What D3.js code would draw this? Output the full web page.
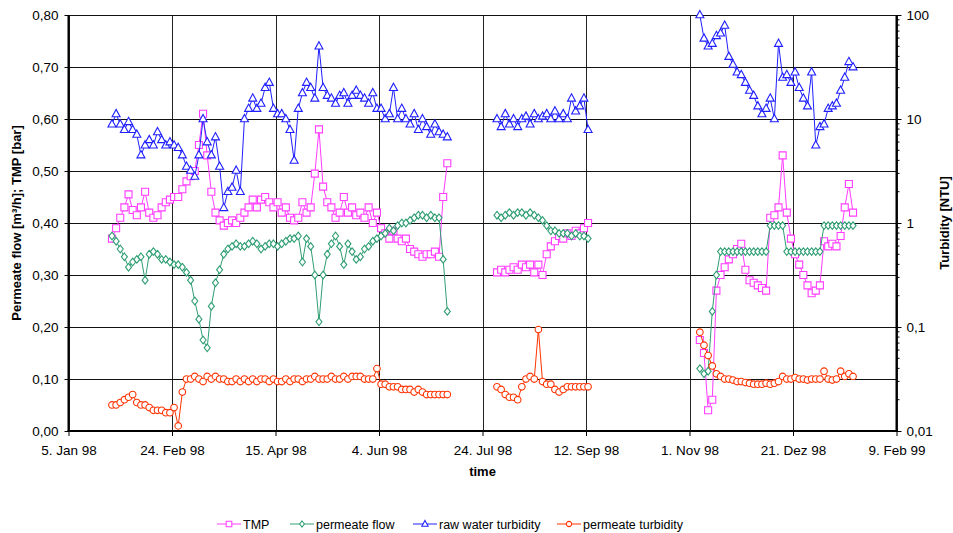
<!doctype html>
<html>
<head>
<meta charset="utf-8">
<title>TMP, permeate flow and turbidity 1998/99</title>
<style>
  body { margin: 0; background: #fff; }
  svg { display: block; font-family: "Liberation Sans", Arial, sans-serif; }
  .tick text { font-size: 13.5px; fill: #000; }
</style>
</head>
<body>
<div id="chart"></div>
<script src="https://d3js.org/d3.v7.min.js"></script>
<script>
// three measuring periods, one reading every 2nd day
var segStart = ["1998-01-26", "1998-07-31", "1998-11-06"];
var stepDays = 2;

// TMP [bar]
var tmp1 = [0.37, 0.39, 0.41, 0.43, 0.455, 0.425, 0.415, 0.43, 0.46, 0.42,
  0.41, 0.415, 0.43, 0.44, 0.445, 0.45, 0.45, 0.465, 0.48, 0.49,
  0.50, 0.55, 0.61, 0.53, 0.46, 0.42, 0.405, 0.395, 0.40, 0.405,
  0.40, 0.41, 0.42, 0.43, 0.445, 0.43, 0.445, 0.45, 0.44, 0.43,
  0.44, 0.42, 0.43, 0.41, 0.405, 0.41, 0.44, 0.42, 0.43, 0.495,
  0.58, 0.47, 0.44, 0.43, 0.41, 0.42, 0.45, 0.42, 0.43, 0.415,
  0.42, 0.41, 0.43, 0.40, 0.42, 0.39, 0.38, 0.37, 0.385, 0.37,
  0.365, 0.37, 0.35, 0.345, 0.34, 0.335, 0.34, 0.34, 0.345, 0.335,
  0.45, 0.515];
var tmp2 = [0.305, 0.31, 0.305, 0.31, 0.315, 0.31, 0.32, 0.315, 0.32, 0.305, 0.32, 0.30,
  0.34, 0.355, 0.365, 0.375, 0.37, 0.38, 0.375, 0.385, 0.38, 0.39, 0.40];
var tmp3 = [0.175, 0.15, 0.04, 0.06, 0.27, 0.30, 0.315, 0.33, 0.34, 0.35,
  0.36, 0.31, 0.29, 0.285, 0.28, 0.275, 0.27, 0.41, 0.415, 0.43,
  0.53, 0.42, 0.37, 0.34, 0.32, 0.30, 0.28, 0.265, 0.27, 0.28,
  0.365, 0.355, 0.36, 0.355, 0.375, 0.43, 0.475, 0.42];

// permeate flow [m3/h]
var flow1 = [0.375, 0.365, 0.35, 0.335, 0.315, 0.325, 0.33, 0.335, 0.29, 0.34,
  0.345, 0.34, 0.33, 0.33, 0.325, 0.32, 0.32, 0.315, 0.305, 0.29,
  0.25, 0.215, 0.175, 0.16, 0.24, 0.285, 0.31, 0.34, 0.35, 0.355,
  0.36, 0.355, 0.355, 0.36, 0.365, 0.36, 0.35, 0.355, 0.36, 0.36,
  0.355, 0.36, 0.365, 0.37, 0.37, 0.375, 0.325, 0.37, 0.355, 0.30,
  0.21, 0.30, 0.34, 0.36, 0.375, 0.355, 0.32, 0.36, 0.345, 0.33,
  0.335, 0.35, 0.355, 0.365, 0.37, 0.375, 0.38, 0.39, 0.385, 0.395,
  0.40, 0.40, 0.405, 0.41, 0.415, 0.415, 0.41, 0.415, 0.41, 0.41,
  0.33, 0.23];
var flow2 = [0.415, 0.41, 0.415, 0.42, 0.415, 0.42, 0.42, 0.415, 0.42, 0.415, 0.41, 0.405,
  0.395, 0.385, 0.385, 0.38, 0.38, 0.38, 0.375, 0.38, 0.375, 0.375, 0.37];
var flow3 = [0.12, 0.11, 0.115, 0.23, 0.30,
  0.345, 0.345, 0.345, 0.345, 0.345, 0.345, 0.345, 0.345, 0.345, 0.345, 0.345, 0.345,
  0.395, 0.395, 0.395, 0.395,
  0.345, 0.345, 0.345, 0.345, 0.345, 0.345, 0.345, 0.345, 0.345,
  0.395, 0.395, 0.395, 0.395, 0.395, 0.395, 0.395, 0.395];

// raw water turbidity [NTU]
var raw1 = [8.9, 11.2, 8.9, 7.9, 9.4, 7.9, 7.1, 4.5, 5.6, 6.3,
  5.6, 7.5, 6.3, 5.6, 6.0, 5.6, 5.3, 4.5, 3.5, 3.2,
  2.8, 4.5, 10, 6.0, 4.5, 6.7, 3.5, 1.4, 2.0, 2.2,
  3.2, 2.0, 10, 12.6, 15.8, 12.6, 14.1, 20, 22.4, 12.6,
  11.2, 11.2, 10, 7.9, 4.0, 12.6, 17.8, 22.4, 20, 15.8,
  50.1, 20, 16.8, 15.8, 14.1, 16.8, 17.8, 14.1, 16.8, 18.8,
  16.8, 15.8, 14.1, 17.8, 12.6, 12.6, 10, 11.2, 20, 10,
  12.6, 10, 8.9, 11.2, 7.9, 10, 8.4, 7.1, 8.9, 7.5,
  7.1, 6.7];
var raw2 = [10, 8.4, 11.2, 8.9, 10, 8.4, 10, 10.6, 8.9, 11.2, 10, 10.6,
  11.2, 10, 11.9, 10, 11.2, 10, 15.8, 11.9, 13.3, 15.8, 7.9];
var raw3 = [100, 59.6, 50.1, 53.1, 63.1, 66.8, 79.4, 39.8, 33.5, 28.2,
  26.6, 22.4, 18.8, 16.8, 13.3, 11.2, 12.6, 15.8, 10, 53.1,
  25.1, 26.6, 22.4, 28.2, 20, 15.8, 13.3, 28.2, 5.6, 8.4,
  8.9, 12.6, 13.3, 14.1, 18.8, 25.1, 35.5, 31.6];

// permeate turbidity [NTU]
var perm1 = [0.0178, 0.0178, 0.0188, 0.020, 0.0211, 0.0224, 0.0188, 0.0178, 0.0178, 0.0168,
  0.0158, 0.0158, 0.0158, 0.015, 0.015, 0.0168, 0.0112, 0.0237, 0.0316, 0.0316,
  0.0335, 0.0316, 0.0299, 0.0335, 0.0316, 0.0335, 0.0316, 0.0316, 0.0299, 0.0299,
  0.0316, 0.0299, 0.0316, 0.0299, 0.0316, 0.0299, 0.0316, 0.0316, 0.0299, 0.0316,
  0.0299, 0.0299, 0.0316, 0.0299, 0.0316, 0.0316, 0.0299, 0.0316, 0.0316, 0.0335,
  0.0316, 0.0316, 0.0316, 0.0335, 0.0316, 0.0316, 0.0335, 0.0316, 0.0335, 0.0335,
  0.0335, 0.0316, 0.0316, 0.0316, 0.0398, 0.0282, 0.0282, 0.0266, 0.0266, 0.0266,
  0.0251, 0.0251, 0.0251, 0.0237, 0.0251, 0.0237, 0.0224, 0.0224, 0.0224, 0.0224,
  0.0224, 0.0224];
var perm2 = [0.0266, 0.0251, 0.0224, 0.0211, 0.0211, 0.020, 0.0266, 0.0316, 0.0335, 0.0316,
  0.0944, 0.0299, 0.0282, 0.0282, 0.0251, 0.0237, 0.0251, 0.0266, 0.0266, 0.0266,
  0.0266, 0.0266, 0.0266];
var perm3 = [0.0891, 0.0668, 0.0531, 0.0422, 0.0355, 0.0335, 0.0316, 0.0316, 0.0309, 0.0299,
  0.0299, 0.0292, 0.0288, 0.0282, 0.0282, 0.0282, 0.0288, 0.0282, 0.0288, 0.0299,
  0.0335, 0.0316, 0.0316, 0.0327, 0.0316, 0.0316, 0.0309, 0.0316, 0.0316, 0.0316,
  0.0376, 0.0316, 0.0309, 0.0316, 0.0376, 0.0335, 0.0355, 0.0335];

// axis ticks
var xTickDates = ["1998-01-05", "1998-02-24", "1998-04-15", "1998-06-04", "1998-07-24",
  "1998-09-12", "1998-11-01", "1998-12-21", "1999-02-09"];
var xTickLabels = ["5. Jan 98", "24. Feb 98", "15. Apr 98", "4. Jun 98", "24. Jul 98",
  "12. Sep 98", "1. Nov 98", "21. Dez 98", "9. Feb 99"];
var leftTicks = [0, 0.1, 0.2, 0.3, 0.4, 0.5, 0.6, 0.7, 0.8];
var rightTicks = [0.01, 0.1, 1, 10, 100];
var rightTickLabels = ["0,01", "0,1", "1", "10", "100"];

var W = 953, H = 533;
var L = 68.5, R = 896.5, T = 15, B = 431;

var parse = d3.utcParse("%Y-%m-%d");

var x = d3.scaleUtc().domain([parse(xTickDates[0]), parse(xTickDates[xTickDates.length - 1])]).range([L, R]);
var yL = d3.scaleLinear().domain([0, 0.8]).range([B, T]);
var yR = d3.scaleLog().domain([0.01, 100]).range([B, T]);

var series = [
  {name: "TMP", segs: [tmp1, tmp2, tmp3], y: yL, color: "#ff3cff", marker: "square"},
  {name: "permeate flow", segs: [flow1, flow2, flow3], y: yL, color: "#2f9e73", marker: "diamond"},
  {name: "raw water turbidity", segs: [raw1, raw2, raw3], y: yR, color: "#1f1fff", marker: "triangle"},
  {name: "permeate turbidity", segs: [perm1, perm2, perm3], y: yR, color: "#ff3300", marker: "circle"}
];

var markerPath = {
  square: "M-3.5,-3.5H3.5V3.5H-3.5Z",
  diamond: "M0,-3.8L3,0L0,3.8L-3,0Z",
  triangle: "M0,-4.5L4,2.8L-4,2.8Z",
  circle: "M3.3,0A3.3,3.3 0 1,1 -3.3,0A3.3,3.3 0 1,1 3.3,0Z"
};

var svg = d3.select("#chart").append("svg")
  .attr("width", W)
  .attr("height", H);

// grid
svg.append("g")
  .attr("transform", "translate(0," + B + ")")
  .call(d3.axisBottom(x).tickValues(xTickDates.map(parse)).tickSize(-(B - T)).tickFormat(""))
  .call(function(g) { g.select(".domain").remove(); })
  .selectAll("line").attr("stroke", "#222").attr("shape-rendering", "crispEdges");

svg.append("g")
  .attr("transform", "translate(" + L + ",0)")
  .call(d3.axisLeft(yL).tickValues(leftTicks).tickSize(-(R - L)).tickFormat(""))
  .call(function(g) { g.select(".domain").remove(); })
  .selectAll("line").attr("stroke", "#111").attr("shape-rendering", "crispEdges");

// data
series.forEach(function(s) {
  var g = svg.append("g");
  s.segs.forEach(function(vals, j) {
    var start = parse(segStart[j]);
    var pts = vals.map(function(v, i) {
      return {date: d3.utcDay.offset(start, i * stepDays), value: v};
    });
    var line = d3.line()
      .x(function(d) { return x(d.date); })
      .y(function(d) { return s.y(d.value); });
    g.append("path")
      .datum(pts)
      .attr("d", line)
      .attr("fill", "none")
      .attr("stroke", s.color)
      .attr("stroke-width", 1);
    g.selectAll(null)
      .data(pts)
      .enter()
      .append("path")
      .attr("transform", function(d) { return "translate(" + x(d.date) + "," + s.y(d.value) + ")"; })
      .attr("d", markerPath[s.marker])
      .attr("fill", "#fff")
      .attr("stroke", s.color)
      .attr("stroke-width", 1.1);
  });
});

// axes
svg.append("g")
  .attr("transform", "translate(" + L + ",0)")
  .call(d3.axisLeft(yL).tickValues(leftTicks).tickSize(4).tickPadding(6)
    .tickFormat(function(d) { return d.toFixed(2).replace(".", ","); }))
  .call(function(g) { g.select(".domain").remove(); });

svg.append("g")
  .attr("transform", "translate(" + R + ",0)")
  .call(d3.axisRight(yR).tickValues(rightTicks).tickSize(5).tickPadding(5)
    .tickFormat(function(d, i) { return rightTickLabels[i]; }))
  .call(function(g) { g.select(".domain").remove(); });

// minor log ticks
svg.append("g")
  .selectAll("line")
  .data(yR.ticks().filter(function(d) { return rightTicks.indexOf(d) < 0; }))
  .enter()
  .append("line")
  .attr("x1", R).attr("x2", R + 3)
  .attr("y1", function(d) { return yR(d); })
  .attr("y2", function(d) { return yR(d); })
  .attr("stroke", "#000");

svg.append("g")
  .attr("transform", "translate(0," + B + ")")
  .call(d3.axisBottom(x).tickValues(xTickDates.map(parse)).tickSize(5).tickPadding(9)
    .tickFormat(function(d, i) { return xTickLabels[i]; }))
  .call(function(g) { g.select(".domain").remove(); });

// axis frame lines
svg.append("line").attr("x1", L).attr("x2", L).attr("y1", T).attr("y2", B + 1)
  .attr("stroke", "#000").attr("stroke-width", 2);
svg.append("line").attr("x1", R).attr("x2", R).attr("y1", T).attr("y2", B + 1)
  .attr("stroke", "#000").attr("stroke-width", 2);
svg.append("line").attr("x1", L - 1).attr("x2", R + 1).attr("y1", B).attr("y2", B)
  .attr("stroke", "#000").attr("stroke-width", 2.2);

// axis titles
svg.append("text")
  .attr("transform", "translate(21," + (T + B) / 2 + ") rotate(-90)")
  .attr("text-anchor", "middle")
  .attr("font-size", 13)
  .attr("font-weight", "bold")
  .text("Permeate flow [m³/h]; TMP [bar]");

svg.append("text")
  .attr("transform", "translate(949," + (T + B) / 2 + ") rotate(-90)")
  .attr("text-anchor", "middle")
  .attr("font-size", 13)
  .attr("font-weight", "bold")
  .text("Turbidity [NTU]");

svg.append("text")
  .attr("x", (L + R) / 2)
  .attr("y", 476)
  .attr("text-anchor", "middle")
  .attr("font-size", 13)
  .attr("font-weight", "bold")
  .text("time");

// legend
var legX = [217, 290, 413, 557];
var leg = svg.append("g").selectAll("g")
  .data(series)
  .enter()
  .append("g")
  .attr("transform", function(d, i) { return "translate(" + legX[i] + ",524)"; });

leg.append("line")
  .attr("x1", 0).attr("x2", 24)
  .attr("stroke", function(d) { return d.color; });
leg.append("path")
  .attr("transform", "translate(12,0) scale(0.8)")
  .attr("d", function(d) { return markerPath[d.marker]; })
  .attr("fill", "#fff")
  .attr("stroke", function(d) { return d.color; })
  .attr("stroke-width", 1.3);
leg.append("text")
  .attr("x", 26)
  .attr("y", 4.5)
  .attr("font-size", 12.5)
  .text(function(d) { return d.name; });
</script>
</body>
</html>
